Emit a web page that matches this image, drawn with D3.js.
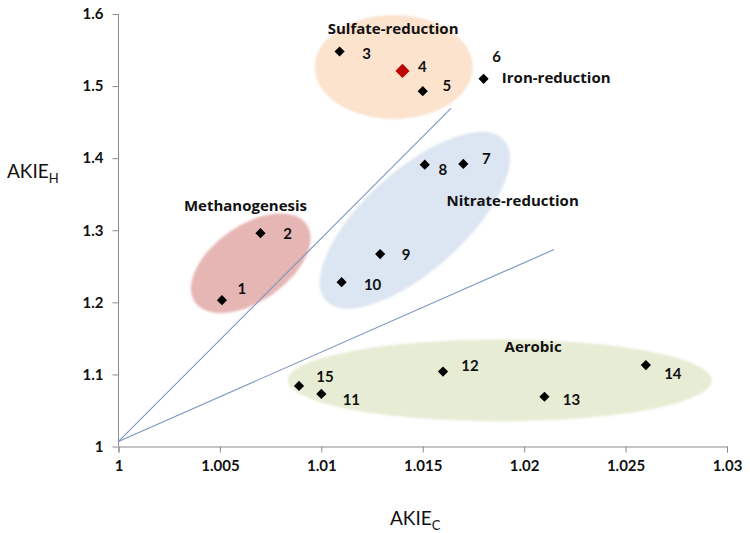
<!DOCTYPE html>
<html><head><meta charset="utf-8">
<script src="https://cdn.jsdelivr.net/npm/d3@7/dist/d3.min.js"></script>
<style>body{margin:0;background:#fff}svg{display:block}</style>
</head><body><svg id="c" width="750" height="533" font-family="Lato, 'Open Sans', sans-serif"></svg>
<script>
// ---- data ----
const pointIds = [1,2,3,4,5,6,7,8,9,10,11,12,13,14,15];
const akieC = [1.0051,1.0070,1.0109,1.0140,1.0150,1.0180,1.0170,1.0151,1.0129,1.0110,1.0100,1.0160,1.0210,1.0260,1.0089];
const akieH = [1.203,1.296,1.548,1.521,1.493,1.510,1.392,1.391,1.267,1.228,1.073,1.104,1.069,1.113,1.084];
const highlighted = [4];
const xTicks = [1,1.005,1.01,1.015,1.02,1.025,1.03];
const yTicks = [1,1.1,1.2,1.3,1.4,1.5,1.6];
const groupNames = ["Sulfate-reduction","Iron-reduction","Methanogenesis","Nitrate-reduction","Aerobic"];
const groupLabelC = [1.01354,1.0189,1.00626,1.01943,1.02044];
const groupLabelH = [1.5810,1.5125,1.3354,1.3417,1.1389];
const ellipseNames = ["Sulfate-reduction","Methanogenesis","Nitrate-reduction","Aerobic"];
const ellipseC = [1.01357,1.00652,1.01461,1.0188];
const ellipseH = [1.5264,1.2542,1.3139,1.0917];
const boundaryStartC = [1,1];
const boundaryStartH = [1.007,1.007];
const boundaryEndC = [1.01639,1.02147];
const boundaryEndH = [1.469,1.2732];

// ---- layout / style ----
const ellipseStyle = [
  {rx:79, ry:52, rot:0,  fill:"#fbe3ce"},
  {rx:68, ry:38, rot:-35,fill:"#e6b6b4"},
  {rx:120,ry:50, rot:-42,fill:"#dce6f2"},
  {rx:212,ry:41, rot:0,  fill:"#e7edd5"}
];
const labelOffset = [[20,-12],[27,0],[27,2],[20,-5],[24,-6],[13,-23],[23,-6],[18,4],[26,0],[31,2],[30,5],[27,-7],[27,2],[27,8],[26,-10]];
const groupAnchor = ["middle","start","middle","middle","middle"];

const svg = d3.select("#c");
const x = d3.scaleLinear().domain([1,1.03]).range([118.5,727]);
const y = d3.scaleLinear().domain([1,1.6]).range([446.5,14]);

const defs = svg.append("defs");
defs.append("filter").attr("id","soft").attr("x","-20%").attr("y","-20%").attr("width","140%").attr("height","140%")
  .append("feGaussianBlur").attr("stdDeviation",1.2);

// ellipses
svg.append("g").selectAll("ellipse").data(ellipseNames).join("ellipse")
  .attr("cx",0).attr("cy",0)
  .attr("rx",(d,i)=>ellipseStyle[i].rx).attr("ry",(d,i)=>ellipseStyle[i].ry)
  .attr("transform",(d,i)=>`translate(${x(ellipseC[i])},${y(ellipseH[i])}) rotate(${ellipseStyle[i].rot})`)
  .attr("fill",(d,i)=>ellipseStyle[i].fill).attr("filter","url(#soft)");

// axes
const xAxis = svg.append("g").attr("transform",`translate(0,${y(1)})`)
  .call(d3.axisBottom(x).tickValues(xTicks).tickFormat(d=>d3.format("")(+d.toFixed(3))).tickSizeOuter(0).tickSize(6).tickPadding(8));
const yAxis = svg.append("g").attr("transform",`translate(${x(1)},0)`)
  .call(d3.axisLeft(y).tickValues(yTicks).tickFormat(d=>d3.format("")(+d.toFixed(1))).tickSizeOuter(0).tickSize(6).tickPadding(9));
[xAxis,yAxis].forEach(a=>{
  a.attr("font-family",null);
  a.select(".domain").attr("stroke","#8c8c8c");
  a.selectAll(".tick line").attr("stroke","#8c8c8c");
  a.selectAll(".tick text").attr("fill","#111").style("font-size","15px").style("font-weight","bold").style("font-family","Lato, sans-serif");
});
yAxis.select(".domain").attr("d",`M0,${y(1.6)}V${y(1)}`);

// boundary lines
svg.append("g").selectAll("line").data(boundaryStartC).join("line")
  .attr("x1",(d,i)=>x(boundaryStartC[i])).attr("y1",(d,i)=>y(boundaryStartH[i]))
  .attr("x2",(d,i)=>x(boundaryEndC[i])).attr("y2",(d,i)=>y(boundaryEndH[i]))
  .attr("stroke","#7b96bf").attr("stroke-width",1.1);

// points (diamonds)
svg.append("g").selectAll("path").data(pointIds).join("path")
  .attr("d",d=>d3.symbol().type(d3.symbolSquare).size(highlighted.includes(d)?100:52)())
  .attr("transform",(d,i)=>`translate(${x(akieC[i])},${y(akieH[i])}) rotate(45)`)
  .attr("fill",d=>highlighted.includes(d)?"#c00000":"#000");

// point labels
svg.append("g").selectAll("text").data(pointIds).join("text")
  .attr("x",(d,i)=>x(akieC[i])+labelOffset[i][0]).attr("y",(d,i)=>y(akieH[i])+labelOffset[i][1])
  .attr("text-anchor","middle").attr("dominant-baseline","central")
  .style("font-family","Lato, sans-serif").style("font-size","15px").style("font-weight","bold")
  .attr("fill","#111").text(d=>d);

// group labels
svg.append("g").selectAll("text").data(groupNames).join("text")
  .attr("x",(d,i)=>x(groupLabelC[i])).attr("y",(d,i)=>y(groupLabelH[i]))
  .attr("text-anchor",(d,i)=>groupAnchor[i]).attr("dominant-baseline","central")
  .style("font-family","'Open Sans', sans-serif").style("font-size","15px").style("font-weight","bold")
  .attr("fill","#111").text(d=>d);

// axis titles
const tH = svg.append("text").attr("x",7).attr("y",178).style("font-family","Lato, sans-serif").style("font-size","19px").attr("fill","#111");
tH.append("tspan").text("AKIE");
tH.append("tspan").style("font-size","13px").attr("dy",5).text("H");
const tC = svg.append("text").attr("x",390).attr("y",525).style("font-family","Lato, sans-serif").style("font-size","19px").attr("fill","#111");
tC.append("tspan").text("AKIE");
tC.append("tspan").style("font-size","13px").attr("dy",5).text("C");
</script></body></html>
